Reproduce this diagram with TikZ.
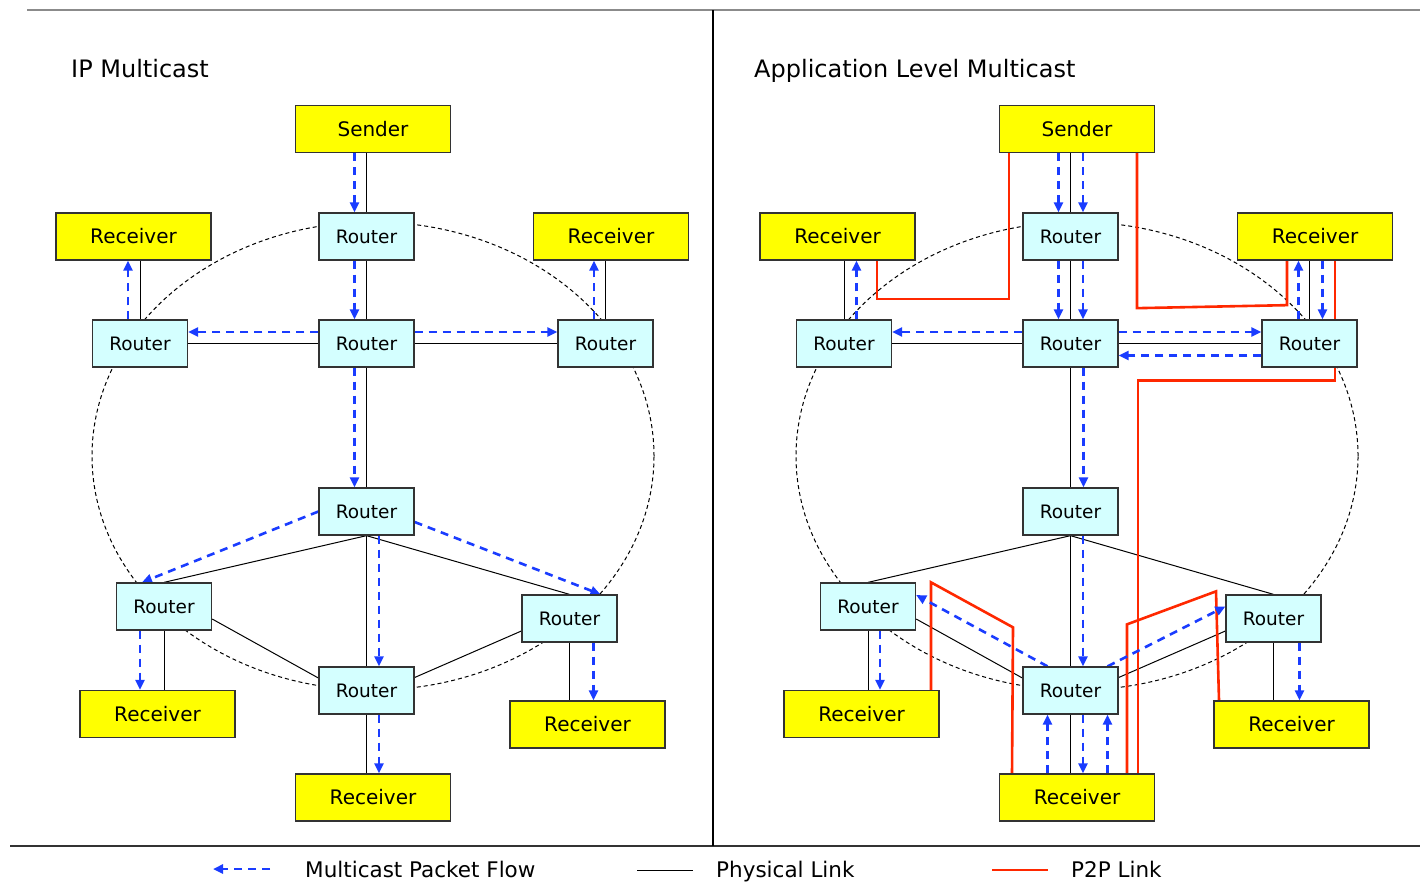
\documentclass[tikz,border=0pt]{standalone}
\usepackage{fontspec}
\setmainfont{DejaVu Sans}
\usetikzlibrary{arrows.meta,backgrounds,calc}
\definecolor{rcvyellow}{RGB}{255,255,0}
\definecolor{rtcyan}{RGB}{212,255,255}
\definecolor{boxline}{RGB}{51,51,51}
\definecolor{flowblue}{RGB}{26,60,255}
\definecolor{p2pred}{RGB}{255,40,0}
\definecolor{frameline}{RGB}{110,110,110}
\tikzset{
 box/.style={draw=boxline,line width=1.3pt,inner sep=0pt},
 rcv/.style={box,fill=rcvyellow,minimum width=155pt,minimum height=47pt,font=\fontsize{20}{24}\selectfont},
 rtr/.style={box,fill=rtcyan,minimum width=95pt,minimum height=47pt,font=\fontsize{18.5}{22}\selectfont},
 phys/.style={draw=black,line width=1pt},
 flow/.style={draw=flowblue,line width=2.6pt,dash pattern=on 8pt off 6pt,-{Triangle[length=10pt,width=9pt]}},
 p2p/.style={draw=p2pred,line width=2.6pt,line join=miter},
 ring/.style={draw=black,line width=1pt,dash pattern=on 4pt off 3pt},
 paneltitle/.style={anchor=base west,font=\fontsize{24}{28}\selectfont,inner sep=0pt},
 legendtext/.style={anchor=base west,font=\fontsize{21.5}{25}\selectfont,inner sep=0pt},
 framestyle/.style={draw=frameline,line width=1.5pt},
}
\newcommand{\mynodes}[1]{%
 \node[rcv] (#1snd) at (373,129) {Sender};
 \node[rtr] (#1rt) at (366.5,236.5) {Router};
 \node[rcv] (#1rcvL) at (133.5,236.5) {Receiver};
 \node[rcv] (#1rcvR) at (611,236.5) {Receiver};
 \node[rtr] (#1rL) at (140,343.5) {Router};
 \node[rtr] (#1rC) at (366.5,343.5) {Router};
 \node[rtr] (#1rR) at (605.5,343.5) {Router};
 \node[rtr] (#1rM) at (366.5,511.5) {Router};
 \node[rtr] (#1rLL) at (164,606.5) {Router};
 \node[rtr] (#1rLR) at (569.5,618.5) {Router};
 \node[rtr] (#1rB) at (366.5,690.5) {Router};
 \node[rcv] (#1rcvLL) at (157.5,714) {Receiver};
 \node[rcv] (#1rcvLR) at (587.5,724.5) {Receiver};
 \node[rcv] (#1rcvB) at (373,797.5) {Receiver};
}
\newcommand{\mylinks}[1]{%
 \draw[ring] (373,456) ellipse [x radius=281pt, y radius=234pt];
 \draw[phys] (#1snd.south -| #1rt.north) -- (#1rt.north);
 \draw[phys] (#1rcvL.south -| #1rL.north) -- (#1rL.north);
 \draw[phys] (#1rcvR.south -| #1rR.north) -- (#1rR.north);
 \draw[phys] (#1rt.south) -- (#1rC.north);
 \draw[phys] (#1rL.east) -- (#1rC.west);
 \draw[phys] (#1rC.east) -- (#1rR.west);
 \draw[phys] (#1rC.south) -- (#1rM.north);
 \draw[phys] (#1rM.south) -- (#1rLL.north);
 \draw[phys] (#1rM.south) -- (#1rLR.north);
 \draw[phys] (#1rM.south) -- (#1rB.north);
 \draw[phys] ([yshift=-12.5pt]#1rLL.east) -- ([yshift=12.5pt]#1rB.west);
 \draw[phys] ([yshift=-12.5pt]#1rLR.west) -- ([yshift=13pt]#1rB.east);
 \draw[phys] (#1rLL.south) -- (#1rcvLL.north -| #1rLL.south);
 \draw[phys] (#1rLR.south) -- (#1rcvLR.north -| #1rLR.south);
 \draw[phys] (#1rB.south) -- (#1rcvB.north -| #1rB.south);
}
\begin{document}
\begin{tikzpicture}[x=1pt,y=-1pt]
\useasboundingbox (0,0) rectangle (1420,881);
% frame
\coordinate (tl) at (27,10);
\coordinate (tr) at (1420,10);
\coordinate (bl) at (10,846);
\coordinate (br) at (1420,846);
\coordinate (dt) at (713,10);
\coordinate (db) at (713,846);
\draw[framestyle,draw=frameline!80] (tl) -- (tr);
\draw[framestyle,draw=black!80] (bl) -- (br);
\draw[framestyle,draw=black] (dt) -- (db);
% titles
\node[paneltitle] (t1) at (71,77) {IP Multicast};
\node[paneltitle] (t2) at (754,77) {Application Level Multicast};
% nodes
\mynodes{a}
\begin{scope}[xshift=704pt]
\mynodes{b}
\end{scope}
\begin{pgfonlayer}{background}
\mylinks{a}
\begin{scope}[xshift=704pt]
\mylinks{b}
\end{scope}
% P2P links (right panel)
\draw[p2p] ([xshift=-68pt]bsnd.south) -- ++(0,146) -| ([xshift=39.5pt]brcvL.south);
\draw[p2p] ([xshift=60pt]bsnd.south) -- ++(0,155) -- ++(150,-3) -- ([xshift=-28pt]brcvR.south);
\draw[p2p] ([xshift=20pt]brcvR.south) -- ++(0,120) -| ([xshift=61pt]brcvB.north);
\draw[p2p] ([xshift=50pt]brcvB.north) -- ++(0,-149) -- ++(89,-33) -- ([xshift=-72.5pt]brcvLR.north);
\draw[p2p] ([xshift=-65pt]brcvB.north) -- ++(1,-146) -- ++(-82,-45) -- ([xshift=69.5pt]brcvLL.north);
% flows left
\draw[flow] ([xshift=-12pt]art.north |- asnd.south) -- ([xshift=-12pt]art.north);
\draw[flow] ([xshift=-12pt]art.south) -- ([xshift=-12pt]arC.north);
\draw[flow] ([yshift=11.5pt]arC.west) -- ([yshift=11.5pt]arL.east);
\draw[flow] ([yshift=11.5pt]arC.east) -- ([yshift=11.5pt]arR.west);
\draw[flow] ([xshift=-12pt]arL.north) -- ([xshift=-12pt]arL.north |- arcvL.south);
\draw[flow] ([xshift=-11.5pt]arR.north) -- ([xshift=-11.5pt]arR.north |- arcvR.south);
\draw[flow] ([xshift=-12pt]arC.south) -- ([xshift=-12pt]arM.north);
\draw[flow] (arM.west) -- ([xshift=-22pt]arLL.north);
\draw[flow] ([yshift=-10.5pt]arM.east) -- ([xshift=31pt]arLR.north);
\draw[flow] ([xshift=12.5pt]arM.south) -- ([xshift=12.5pt]arB.north);
\draw[flow] ([xshift=-24pt]arLL.south) -- ([xshift=-24pt]arLL.south |- arcvLL.north);
\draw[flow] ([xshift=24pt]arLR.south) -- ([xshift=24pt]arLR.south |- arcvLR.north);
\draw[flow] ([xshift=12.5pt]arB.south) -- ([xshift=12.5pt]arB.south |- arcvB.north);
% flows right
\draw[flow] ([xshift=-12pt]brt.north |- bsnd.south) -- ([xshift=-12pt]brt.north);
\draw[flow] ([xshift=12.5pt]brt.north |- bsnd.south) -- ([xshift=12.5pt]brt.north);
\draw[flow] ([xshift=-12pt]brt.south) -- ([xshift=-12pt]brC.north);
\draw[flow] ([xshift=12.5pt]brt.south) -- ([xshift=12.5pt]brC.north);
\draw[flow] ([yshift=11.5pt]brC.west) -- ([yshift=11.5pt]brL.east);
\draw[flow] ([yshift=11.5pt]brC.east) -- ([yshift=11.5pt]brR.west);
\draw[flow] ([yshift=-12pt]brR.west) -- ([yshift=-12pt]brC.east);
\draw[flow] ([xshift=12.5pt]brL.north) -- ([xshift=12.5pt]brL.north |- brcvL.south);
\draw[flow] ([xshift=-11pt]brR.north) -- ([xshift=-11pt]brR.north |- brcvR.south);
\draw[flow] ([xshift=13pt]brR.north |- brcvR.south) -- ([xshift=13pt]brR.north);
\draw[flow] ([xshift=13pt]brC.south) -- ([xshift=13pt]brM.north);
\draw[flow] ([xshift=12.5pt]brM.south) -- ([xshift=12.5pt]brB.north);
\draw[flow] ([xshift=-23pt]brB.north) -- ([yshift=11.5pt]brLL.east);
\draw[flow] ([xshift=37pt]brB.north) -- ([yshift=12pt]brLR.west);
\draw[flow] ([xshift=12.5pt]brB.south) -- ([xshift=12.5pt]brB.south |- brcvB.north);
\draw[flow] ([xshift=-23pt]brB.south |- brcvB.north) -- ([xshift=-23pt]brB.south);
\draw[flow] ([xshift=37pt]brB.south |- brcvB.north) -- ([xshift=37pt]brB.south);
\draw[flow] ([xshift=12pt]brLL.south) -- ([xshift=12pt]brLL.south |- brcvLL.north);
\draw[flow] ([xshift=26pt]brLR.south) -- ([xshift=26pt]brLR.south |- brcvLR.north);
\end{pgfonlayer}
% legend
\coordinate (lgA) at (270,869);
\coordinate (lgB) at (213,869);
\draw[flow] (lgA) -- (lgB);
\node[legendtext] (lgT1) at (305,877) {Multicast Packet Flow};
\coordinate (lgC) at (637,870);
\coordinate (lgD) at (693,870);
\draw[phys] (lgC) -- (lgD);
\node[legendtext] (lgT2) at (716,877) {Physical Link};
\coordinate (lgE) at (992,870);
\coordinate (lgF) at (1048,870);
\draw[p2p] (lgE) -- (lgF);
\node[legendtext] (lgT3) at (1071,877) {P2P Link};
\end{tikzpicture}
\end{document}
